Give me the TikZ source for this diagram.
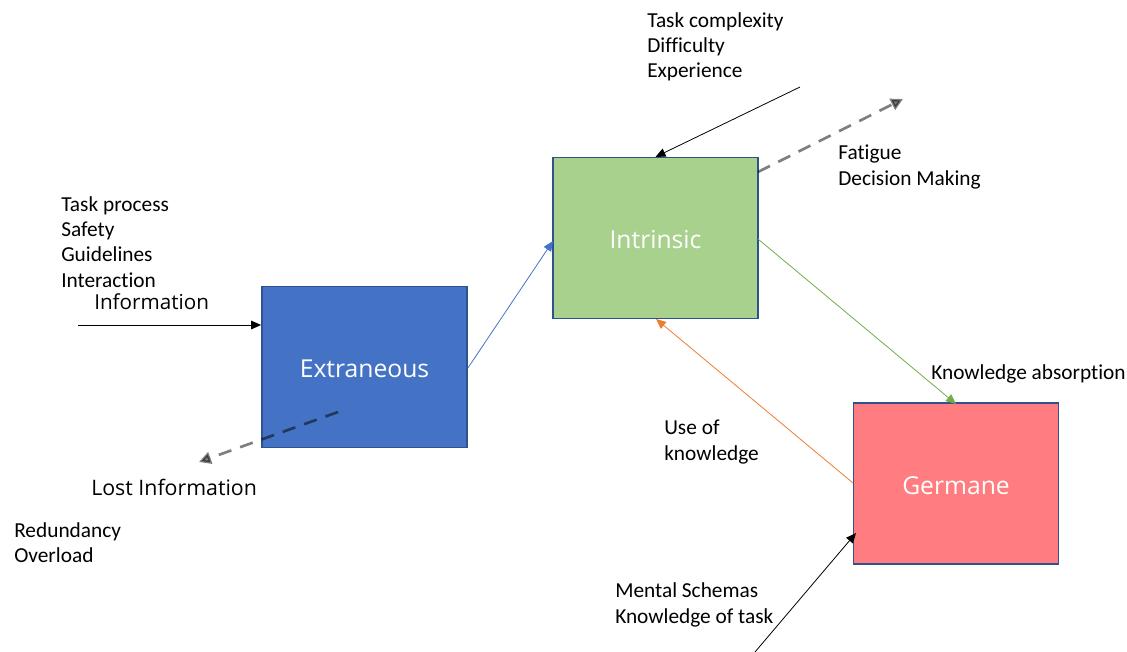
\documentclass[tikz,border=0pt]{standalone}
\usepackage{fontspec}
\setmainfont{Carlito}[Ligatures=NoCommon]
\newfontfamily\labelfont{Open Sans}
\usetikzlibrary{arrows.meta}
\definecolor{boxline}{HTML}{2F528F}
\definecolor{extfill}{HTML}{4472C4}
\definecolor{intfill}{HTML}{A9D18E}
\definecolor{gerfill}{HTML}{FF7C80}
\definecolor{bluearrow}{HTML}{4472C4}
\definecolor{greenarrow}{HTML}{70AD47}
\definecolor{orangearrow}{HTML}{ED7D31}
\begin{document}
\begin{tikzpicture}[x=0.75pt,y=-0.75pt,
  loadbox/.style={draw=boxline,line width=1.1pt,minimum width=154pt,minimum height=120.5pt,
    inner sep=0pt,text=white,font=\labelfont\fontsize{18.5}{22}\selectfont},
  boxlabel/.style={inner sep=0pt,text=white,font=\labelfont\fontsize{18.5}{22}\selectfont},
  note/.style={anchor=west,inner sep=0pt,align=left,font=\fontsize{16}{18.9}\selectfont},
  bignote/.style={anchor=west,inner sep=0pt,font=\labelfont\fontsize{15.5}{18}\selectfont},
  tip/.style={-{Triangle[length=7.5pt,width=6.5pt]}},
  thin arrow/.style={tip,line width=0.6pt},
  lost/.style={draw=black,opacity=0.5,line width=2pt,dash pattern=on 10pt off 7pt,
    -{Triangle[length=9pt,width=9pt]}}]
\useasboundingbox (0,0) rectangle (1127,652);

% the three load boxes
\node[loadbox,fill=extfill] (ext) at (364.5,367) {};
\node[loadbox,fill=intfill] (int) at (655.5,238) {};
\node[loadbox,fill=gerfill] (ger) at (956,483.5) {};
\node[boxlabel] (extlabel) at ([yshift=-1.5]ext.center) {Extraneous};
\node[boxlabel] (intlabel) at ([yshift=-1.5]int.center) {Intrinsic};
\node[boxlabel] (gerlabel) at ([yshift=-1.5]ger.center) {Germane};

% text blocks
\node[note] (tc) at (647,47) {Task complexity\\Difficulty\\Experience};
\node[note] (fat) at (838,167) {Fatigue\\Decision Making};
\node[note] (tp) at (61,242) {Task process\\Safety\\Guidelines\\Interaction};
\node[bignote] (info) at (94,302) {Information};
\node[bignote,font=\labelfont\fontsize{16}{18}\selectfont] (lostinfo) at (91,487) {Lost Information};
\node[note] (red) at (14,543) {Redundancy\\Overload};
\node[note] (ka) at (931,373.5) {Knowledge absorption};
\node[note] (uk) at (664,442) {Use of\\knowledge};
\node[note] (ms) at (615,605) {Mental Schemas\\Knowledge of task};

% free ends of the outside arrows
\coordinate (infoin) at (78,325);
\coordinate (tcin) at (800,87);
\coordinate (msin) at (755,652);
\coordinate (fatout) at (903,99);
\coordinate (lostout) at (199,462);
\coordinate (loststart) at (338,412);
\coordinate (fatstart) at (758,172);

% connectors
\draw[thin arrow,black] (infoin) -- (ext.west |- infoin);
\draw[thin arrow,bluearrow] (ext.east) ++(0,1) -- (553,241);
\draw[thin arrow,greenarrow] (758,239) -- (956,404);
\draw[thin arrow,orangearrow] (853,483) -- (656,319);
\draw[thin arrow,black] (tcin) -- (int.north);
\draw[thin arrow,black] (msin) -- (856,533);

% dashed outflows
\draw[lost] (fatstart) -- (fatout);
\draw[lost] (loststart) -- (lostout);
\end{tikzpicture}
\end{document}
